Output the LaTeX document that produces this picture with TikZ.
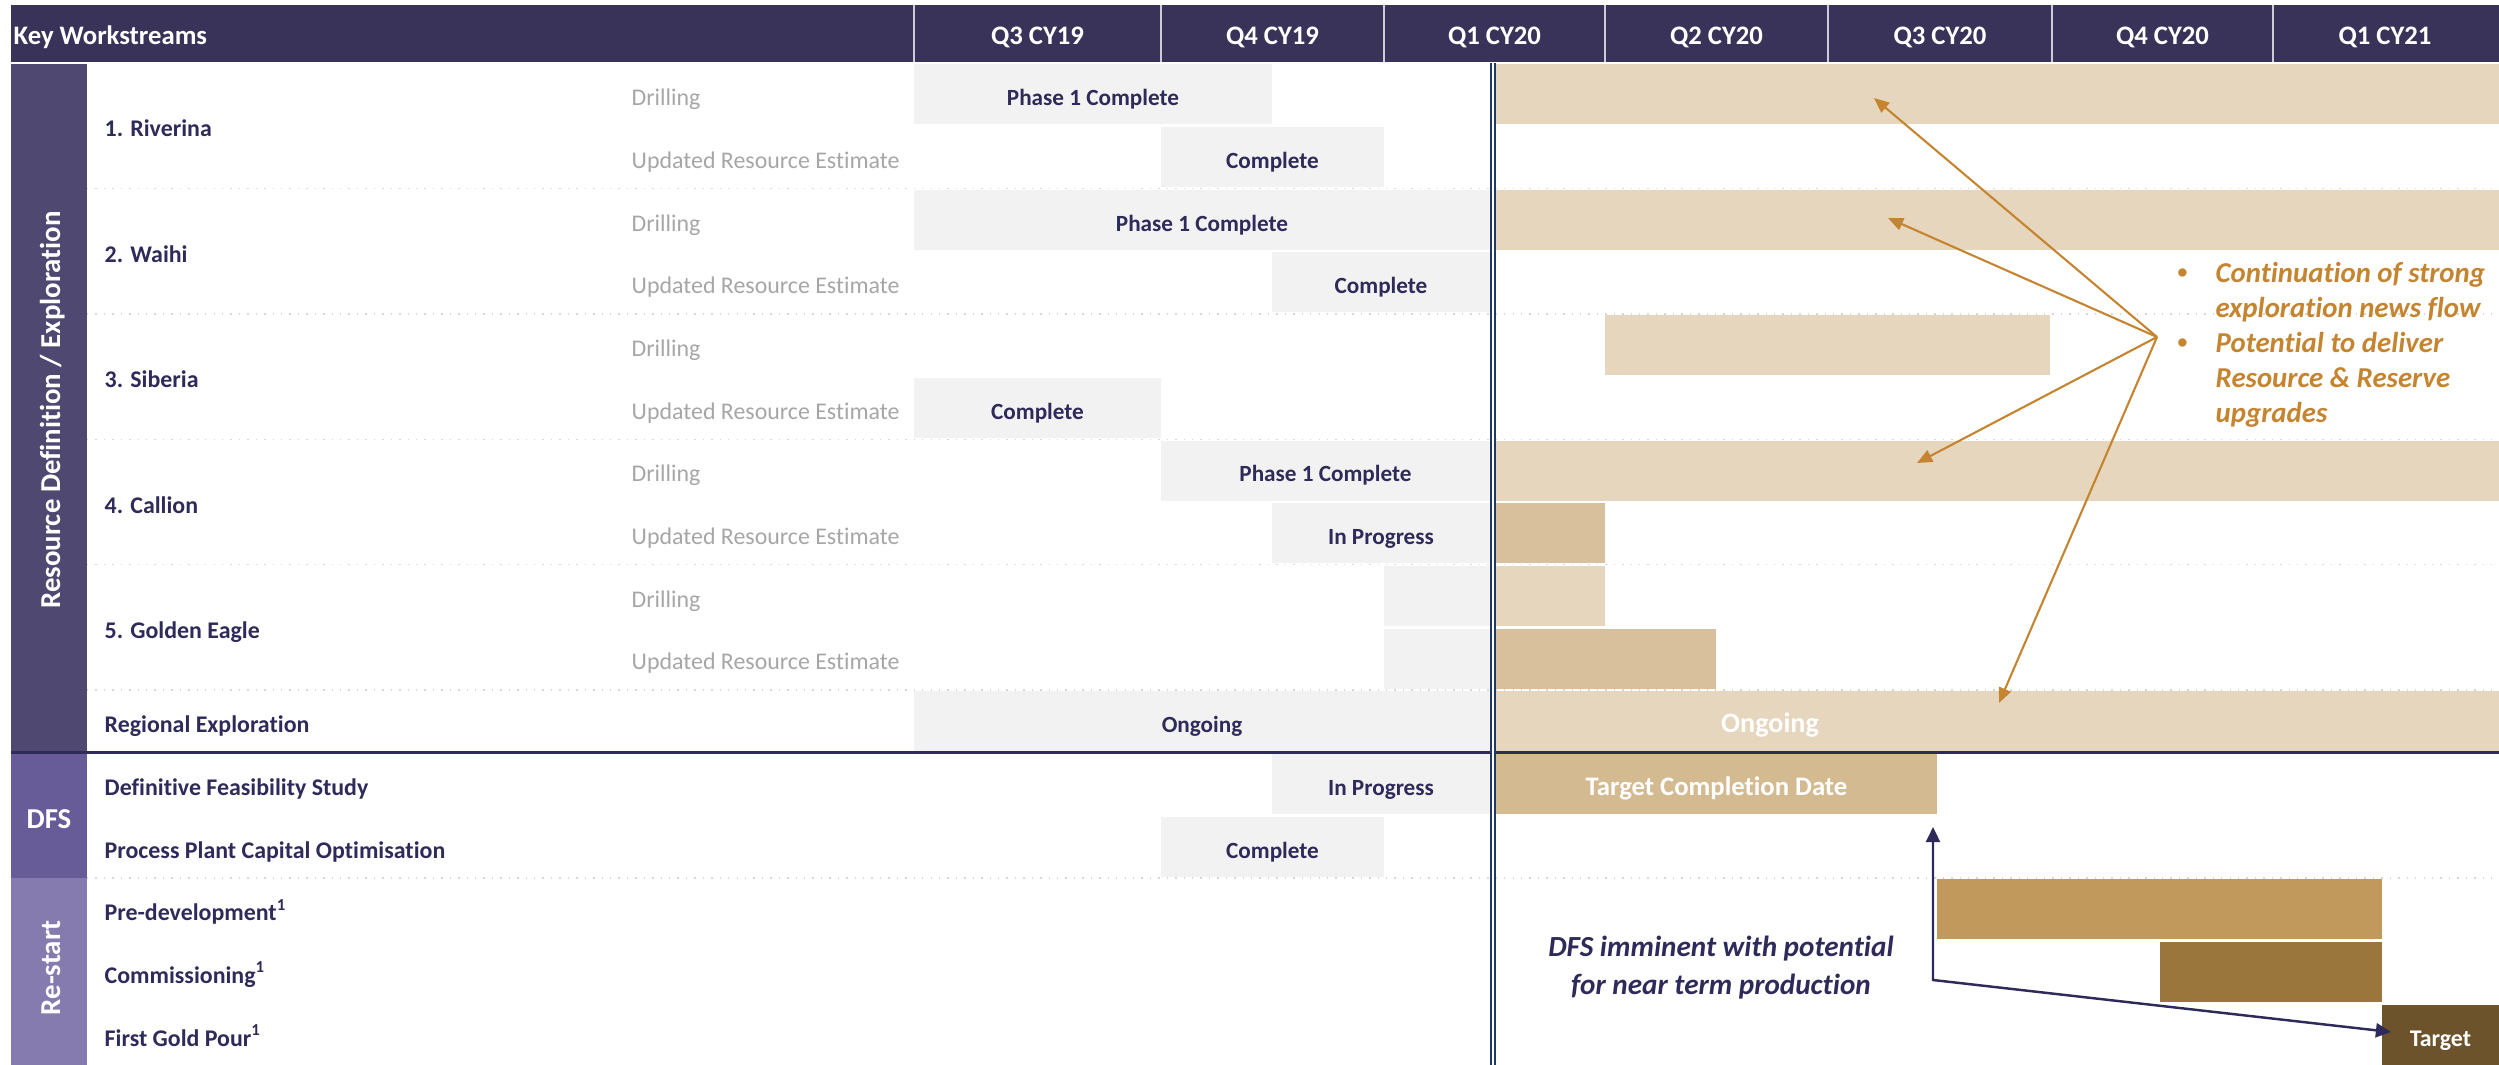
\documentclass[tikz,border=0pt]{standalone}
\usepackage{fontspec}
\setmainfont{Carlito}[Ligatures=NoCommon]
\usetikzlibrary{calc}
\usetikzlibrary{arrows.meta}

\definecolor{hdrbg}{HTML}{393359}
\definecolor{bandrd}{HTML}{4F4870}
\definecolor{banddfs}{HTML}{675C98}
\definecolor{bandrs}{HTML}{857BAF}
\definecolor{inkpurple}{HTML}{2E2A59}
\definecolor{donegrey}{HTML}{F2F2F2}
\definecolor{tanlight}{HTML}{E5D6BD}
\definecolor{tanmid}{HTML}{D9C09D}
\definecolor{tandfs}{HTML}{D4BA91}
\definecolor{gold}{HTML}{C2995C}
\definecolor{bronze}{HTML}{9A763D}
\definecolor{umber}{HTML}{6C532C}
\definecolor{callout}{HTML}{C5842F}
\definecolor{todaynavy}{HTML}{203864}
\definecolor{subgrey}{HTML}{A6A6A6}
\definecolor{rulegrey}{HTML}{D6D6D6}

% centre of row #1 (rows of 0.627 below the header)
\newcommand{\rowc}[1]{0.63+0.627*(#1+0.5)}
% name, row, from, to, style, text
\newcommand{\taskbar}[6]{%
  \node[#5, minimum width={(#4-#3)*1cm}] (#1) at (#3,{\rowc{#2}}) {#6};}
\newcommand{\smallbullet}{\raisebox{0.12em}{\upshape\fontsize{5.6}{6}\selectfont\textbullet}}

\tikzset{
  captxt/.style={text height=0.64em, text depth=0pt},
  hdrtxt/.style={captxt, text=white, inner sep=0pt, font=\fontsize{7.6}{9}\bfseries},
  wsname/.style={captxt, anchor=west, inner sep=0pt, text=inkpurple, font=\fontsize{6.8}{8}\bfseries},
  wssub/.style={captxt, anchor=west, inner sep=0pt, text=subgrey, font=\fontsize{6.8}{8}\selectfont},
  bandtxt/.style={captxt, text=white, inner sep=0pt, font=\fontsize{8.2}{10}\bfseries},
  barbase/.style={captxt, anchor=west, minimum height=0.6cm, inner sep=0pt, outer sep=0pt},
  donebar/.style={barbase, fill=donegrey, text=inkpurple, font=\fontsize{6.6}{8}\bfseries},
  planbar/.style={barbase, fill=tanlight},
  midbar/.style={barbase, fill=tanmid},
  dfsbar/.style={barbase, fill=tandfs, text=white, font=\fontsize{7.6}{9}\bfseries},
  devbar/.style={barbase, fill=gold},
  combar/.style={barbase, fill=bronze},
  pourbar/.style={barbase, fill=umber, text=white, font=\fontsize{6.8}{8}\bfseries},
  planlbl/.style={captxt, text=white, inner sep=0pt, font=\fontsize{8}{9}\bfseries},
  pointer/.style={callout, line width=0.6pt, ->, >={Triangle[length=4.3pt,width=3.6pt]}},
  navyptr/.style={inkpurple, line width=0.7pt, <->, >={Triangle[length=4.3pt,width=4pt]}}
}

\begin{document}
\begin{tikzpicture}[yscale=-1]
\useasboundingbox (0,0) rectangle (24.99,10.65);

% header
\fill[hdrbg] (0.11,0.05) rectangle (24.99,0.62);
\node[hdrtxt, anchor=west] (keyws) at (0.13,0.335) {Key Workstreams};
\foreach \x in {9.14,11.61,13.84,16.05,18.28,20.52,22.73} {
 \draw[white!75!hdrbg, line width=0.4pt] (\x,0.05) -- (\x,0.62);
}
\foreach \q/\x [count=\i] in {Q3 CY19/10.375, Q4 CY19/12.725, Q1 CY20/14.945, Q2 CY20/17.165,
  Q3 CY20/19.40, Q4 CY20/21.625, Q1 CY21/23.85} {
 \node[hdrtxt] (q\i) at (\x,0.335) {\q};
}

% side bands
\fill[bandrd] (0.11,0.64) rectangle (0.87,7.527);
\fill[banddfs] (0.11,7.527) rectangle (0.87,8.781);
\fill[bandrs] (0.11,8.781) rectangle (0.87,10.65);
\node[bandtxt, rotate=90] (rdband) at (0.49,4.10) {Resource Definition / Exploration};
\node[bandtxt] (dfsband) at (0.49,8.17) {DFS};
\node[bandtxt, rotate=90] (rsband) at (0.49,9.68) {Re-start};

% group separators
\foreach \y in {1.884,3.138,4.392,5.646,6.90,8.781} {
 \draw[rulegrey, dotted, line width=0.4pt] (0.87,\y) -- (24.99,\y);
}
\draw[inkpurple, line width=0.03cm] (0.11,7.527) -- (24.99,7.527);

% workstream labels
\foreach \nm [count=\i from 0] in {1. Riverina, 2. Waihi, 3. Siberia, 4. Callion, 5. Golden Eagle} {
 \node[wsname] (ws\i) at (1.04,{0.63+0.627*(2*\i+1)}) {\nm};
 \node[wssub] (drl\i) at (6.31,{\rowc{2*\i}}) {Drilling};
 \node[wssub] (ure\i) at (6.31,{\rowc{2*\i+1}}) {Updated Resource Estimate};
}
\node[wsname] (regl) at (1.04,{\rowc{10}}) {Regional Exploration};
\node[wsname] (dfsl) at (1.04,{\rowc{11}}) {Definitive Feasibility Study};
\node[wsname] (ppcol) at (1.04,{\rowc{12}}) {Process Plant Capital Optimisation};
\node[wsname] (predevl) at (1.04,{\rowc{13}}) {Pre-development\textsuperscript{1}};
\node[wsname] (commisl) at (1.04,{\rowc{14}}) {Commissioning\textsuperscript{1}};
\node[wsname] (pourl) at (1.04,{\rowc{15}}) {First Gold Pour\textsuperscript{1}};

% bars
\taskbar{rivdrl}{0}{9.14}{12.72}{donebar}{Phase 1 Complete}
\taskbar{rivdrlp}{0}{14.96}{24.99}{planbar}{}
\taskbar{rivure}{1}{11.61}{13.84}{donebar}{Complete}
\taskbar{waidrl}{2}{9.14}{14.90}{donebar}{Phase 1 Complete}
\taskbar{waidrlp}{2}{14.96}{24.99}{planbar}{}
\taskbar{waiure}{3}{12.72}{14.90}{donebar}{Complete}
\taskbar{sibdrlp}{4}{16.05}{20.50}{planbar}{}
\taskbar{sibure}{5}{9.14}{11.61}{donebar}{Complete}
\taskbar{caldrl}{6}{11.61}{14.90}{donebar}{Phase 1 Complete}
\taskbar{caldrlp}{6}{14.96}{24.99}{planbar}{}
\taskbar{calure}{7}{12.72}{14.90}{donebar}{In Progress}
\taskbar{calurep}{7}{14.96}{16.05}{midbar}{}
\taskbar{gedrl}{8}{13.84}{14.90}{donebar}{}
\taskbar{gedrlp}{8}{14.96}{16.05}{planbar}{}
\taskbar{geure}{9}{13.84}{14.90}{donebar}{}
\taskbar{geurep}{9}{14.96}{17.16}{midbar}{}
\taskbar{regexp}{10}{9.14}{14.90}{donebar}{Ongoing}
\taskbar{regexpp}{10}{14.96}{24.99}{planbar}{}
\node[planlbl] (regtxt) at (17.70,{\rowc{10}}) {Ongoing};
\taskbar{dfs}{11}{12.72}{14.90}{donebar}{In Progress}
\taskbar{dfsp}{11}{14.96}{19.37}{dfsbar}{Target Completion Date}
\taskbar{ppco}{12}{11.61}{13.84}{donebar}{Complete}
\taskbar{predev}{13}{19.37}{23.82}{devbar}{}
\taskbar{commis}{14}{21.60}{23.82}{combar}{}
\taskbar{pour}{15}{23.82}{24.99}{pourbar}{Target}

% today
\coordinate (nowtop) at (14.93,0.63);
\coordinate (nowbot) at (14.93,10.65);
\draw[todaynavy, line width=0.022cm, double=white, double distance=0.02cm] (nowtop) -- (nowbot);

% exploration call-out
\coordinate (hub) at (21.57,3.37);
\coordinate (tipriv) at (18.74,0.98);
\coordinate (tipwai) at (18.88,2.18);
\coordinate (tipcal) at (19.17,4.63);
\coordinate (tipreg) at (19.99,7.03);
\foreach \t in {tipriv,tipwai,tipcal,tipreg} {
 \draw[pointer] (hub) -- (\t);
}
\node[anchor=base west, inner sep=0pt, text=callout, font=\fontsize{8.2}{9.96}\bfseries\itshape] (newsflow) at (21.77,2.82)
 {\begin{tabular}[t]{@{}p{0.38cm}@{}l@{}}
  \smallbullet & Continuation of strong\\
   & exploration news flow\\
  \smallbullet & Potential to deliver\\
   & Resource \& Reserve\\
   & upgrades
 \end{tabular}};

% DFS to first gold
\coordinate (elbow) at (19.33,9.80);
\coordinate (dfsend) at (19.33,8.27);
\coordinate (pourend) at (23.91,10.32);
\draw[navyptr] (dfsend) -- (elbow) -- (pourend);
\node[align=center, inner sep=0pt, text=inkpurple, font=\fontsize{8.3}{10.8}\bfseries\itshape] (dfsnote) at (17.21,9.68)
 {DFS imminent with potential\\for near term production};
\end{tikzpicture}
\end{document}
